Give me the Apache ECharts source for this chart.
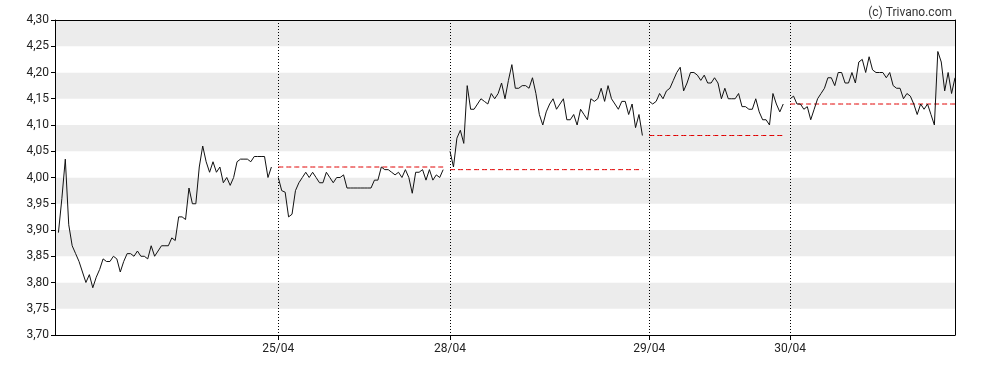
<!DOCTYPE html>
<html>
<head>
<meta charset="utf-8">
<script src="https://cdn.jsdelivr.net/npm/echarts@6/dist/echarts.min.js"></script>
<style>
html,body{margin:0;padding:0;background:#fff;}
#chart{width:988px;height:370px;}
</style>
</head>
<body>
<div id="chart"></div>
<script>
// Day labels (first day has no boundary tick)
const dayLabels = ['24/04', '25/04', '28/04', '29/04', '30/04'];

// Intraday prices per day
const day1 = [3.895, 3.96, 4.035, 3.91, 3.87, 3.855, 3.84, 3.82, 3.80, 3.815, 3.79, 3.81, 3.825, 3.845, 3.84, 3.84,
  3.85, 3.845, 3.82, 3.84, 3.855, 3.855, 3.85, 3.86, 3.85, 3.85, 3.845, 3.87, 3.85, 3.86, 3.87, 3.87, 3.87,
  3.885, 3.88, 3.925, 3.925, 3.92, 3.98, 3.95, 3.95, 4.02, 4.06, 4.03, 4.01, 4.03, 4.01, 4.02, 3.99, 4.00,
  3.985, 4.00, 4.03, 4.035, 4.035, 4.035, 4.03, 4.04, 4.04, 4.04, 4.04, 4.00, 4.02];
const day2 = [4.00, 3.975, 3.972, 3.925, 3.93, 3.975, 3.99, 4.00, 4.01, 4.00, 4.01, 4.00, 3.99, 3.99, 4.01, 4.00,
  3.99, 4.00, 4.00, 4.005, 3.98, 3.98, 3.98, 3.98, 3.98, 3.98, 3.98, 3.98, 3.995, 3.995, 4.02, 4.015, 4.015,
  4.01, 4.005, 4.01, 4.00, 4.015, 4.00, 3.97, 4.01, 4.01, 4.015, 3.995, 4.015, 3.995, 4.005, 4.00, 4.015];
const day3 = [4.05, 4.02, 4.075, 4.09, 4.065, 4.175, 4.13, 4.13, 4.14, 4.15, 4.145, 4.14, 4.16, 4.15, 4.16, 4.18,
  4.15, 4.185, 4.215, 4.17, 4.17, 4.175, 4.175, 4.17, 4.19, 4.16, 4.12, 4.10, 4.125, 4.14, 4.15, 4.13, 4.14,
  4.15, 4.11, 4.11, 4.12, 4.10, 4.13, 4.12, 4.11, 4.15, 4.145, 4.15, 4.17, 4.145, 4.175, 4.15, 4.14, 4.13,
  4.145, 4.145, 4.12, 4.14, 4.095, 4.12, 4.08];
const day4 = [4.145, 4.14, 4.145, 4.16, 4.15, 4.165, 4.17, 4.185, 4.20, 4.21, 4.165, 4.18, 4.20, 4.20, 4.195, 4.185,
  4.195, 4.18, 4.18, 4.19, 4.18, 4.15, 4.17, 4.15, 4.15, 4.15, 4.16, 4.135, 4.135, 4.13, 4.13, 4.15, 4.125,
  4.11, 4.11, 4.10, 4.16, 4.14, 4.125, 4.14];
const day5 = [4.15, 4.155, 4.14, 4.14, 4.13, 4.135, 4.11, 4.13, 4.15, 4.16, 4.17, 4.19, 4.19, 4.175, 4.20, 4.20,
  4.18, 4.18, 4.20, 4.18, 4.22, 4.225, 4.20, 4.23, 4.205, 4.20, 4.20, 4.20, 4.19, 4.20, 4.175, 4.17, 4.17,
  4.15, 4.16, 4.155, 4.14, 4.12, 4.14, 4.13, 4.14, 4.12, 4.10, 4.24, 4.22, 4.165, 4.20, 4.16, 4.19];

// Previous close per day (reference lines)
const prevClose = [null, 4.02, 4.015, 4.08, 4.14];

// Y tick labels
const yMin = 3.70, yMax = 4.30, yStep = 0.05;

const days = [day1, day2, day3, day4, day5];

// Build slot-based series (one empty slot before each day)
const cats = [], price = [], ref = [], boundary = {};
days.forEach((d, di) => {
  cats.push('g' + cats.length); price.push(null); ref.push(null);
  d.forEach((v, i) => {
    if (i === 0 && di > 0) boundary[cats.length] = dayLabels[di];
    cats.push('s' + cats.length);
    price.push(v);
    ref.push(prevClose[di]);
  });
});

const isBoundary = (idx) => boundary[idx] !== undefined;

const chart = echarts.init(document.getElementById('chart'), null, {renderer: 'canvas'});
const FONT = 'Roboto';
chart.setOption({
  animation: false,
  title: {
    text: '(c) Trivano.com',
    right: 31, top: 2,
    textStyle: {fontFamily: FONT, fontSize: 12, fontWeight: 'normal', color: '#333'}
  },
  grid: {left: 55, right: 33, top: 20, bottom: 35},
  xAxis: [{
    type: 'category',
    data: cats,
    boundaryGap: false,
    axisLine: {show: true, lineStyle: {color: '#000', width: 1}},
    axisTick: {show: true, length: 5, interval: (i) => isBoundary(i), lineStyle: {color: '#000'}},
    axisLabel: {
      interval: (i) => isBoundary(i),
      formatter: (v, i) => boundary[i] || '',
      fontFamily: FONT, fontSize: 12, color: '#222', margin: 8
    },
    splitLine: {show: true, interval: (i) => isBoundary(i), lineStyle: {color: '#000', type: [1, 2], width: 1}}
  }, {
    type: 'category',
    data: cats,
    position: 'top',
    boundaryGap: false,
    axisLine: {show: true, lineStyle: {color: '#000', width: 1}},
    axisTick: {show: false},
    axisLabel: {show: false},
    splitLine: {show: false}
  }],
  yAxis: [{
    type: 'value',
    min: yMin, max: yMax, interval: yStep,
    axisLine: {show: true, lineStyle: {color: '#000', width: 1}},
    axisTick: {show: true, length: 4, lineStyle: {color: '#000'}},
    axisLabel: {
      formatter: (v) => v.toFixed(2).replace('.', ','),
      fontFamily: FONT, fontSize: 12, color: '#222', margin: 6
    },
    splitLine: {show: false},
    splitArea: {show: true, areaStyle: {color: ['#ffffff', '#ececec']}}
  }, {
    type: 'value',
    position: 'right',
    min: yMin, max: yMax, interval: yStep,
    axisLine: {show: true, lineStyle: {color: '#000', width: 1}},
    axisTick: {show: false},
    axisLabel: {show: false},
    splitLine: {show: false},
    splitArea: {show: false}
  }],
  series: [{
    type: 'line',
    data: ref,
    showSymbol: false,
    connectNulls: false,
    lineStyle: {color: '#e00000', width: 1, type: [5, 3]},
    z: 3
  }, {
    type: 'line',
    data: price,
    showSymbol: false,
    connectNulls: false,
    lineStyle: {color: '#111', width: 1},
    z: 4
  }]
});
</script>
</body>
</html>
